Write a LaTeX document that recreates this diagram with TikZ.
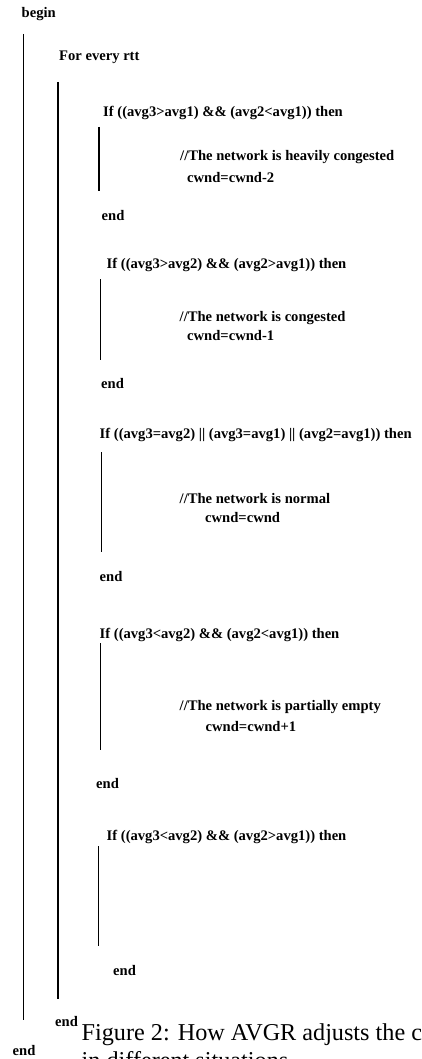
\documentclass[tikz,border=0pt]{standalone}
\usepackage{fontspec}
\setmainfont{Liberation Serif}
\tikzset{
  code/.style={anchor=base west, inner sep=0pt, font=\bfseries\fontsize{14.6}{16}\selectfont},
  captext/.style={anchor=base west, inner sep=0pt, font=\fontsize{24.2}{27}\selectfont},
  bar/.style={line width=1.1pt, black}
}
\begin{document}
\begin{tikzpicture}[x=1pt,y=-1pt]
\useasboundingbox (0,0) rectangle (422,1059);
\clip (0,0) rectangle (422,1059);
\fill[white] (0,0) rectangle (422,1059);
% texts
\node[code] (begin) at (21.5,17.5) {begin};
\node[code] (for) at (59,61) {For every rtt};
\node[code] (if1) at (103,117) {If ((avg3>avg1) \&\& (avg2<avg1)) then};
\node[code] (c1) at (180,161) {//The network is heavily congested};
\node[code] (w1) at (187,182.5) {cwnd=cwnd-2};
\node[code] (e1) at (101.5,220.5) {end};
\node[code] (if2) at (106.5,269) {If ((avg3>avg2) \&\& (avg2>avg1)) then};
\node[code] (c2) at (179.5,321) {//The network is congested};
\node[code] (w2) at (187,340) {cwnd=cwnd-1};
\node[code] (e2) at (101,388) {end};
\node[code] (if3) at (99.5,438.5) {If ((avg3=avg2) || (avg3=avg1) || (avg2=avg1)) then};
\node[code] (c3) at (179.5,503) {//The network is normal};
\node[code] (w3) at (205,522) {cwnd=cwnd};
\node[code] (e3) at (99.5,581) {end};
\node[code] (if4) at (99.5,638.5) {If ((avg3<avg2) \&\& (avg2<avg1)) then};
\node[code] (c4) at (179.5,710.5) {//The network is partially empty};
\node[code] (w4) at (205.5,731) {cwnd=cwnd+1};
\node[code] (e4) at (96,788) {end};
\node[code] (if5) at (106.5,840) {If ((avg3<avg2) \&\& (avg2>avg1)) then};
\node[code] (e5) at (113,975) {end};
\node[code] (e6) at (55,1026) {end};
\node[code] (e7) at (12.5,1055) {end};
\node[captext] (cap1) at (81.5,1040) {Figure 2: How AVGR adjusts the c};
\node[captext] (cap2) at (81.5,1068.5) {in different situations};
% bars
\coordinate (l1a) at (23.7,34);  \coordinate (l1b) at (23.7,1020);
\coordinate (l2a) at (58,82);    \coordinate (l2b) at (58,999);
\coordinate (l3a) at (99,127);   \coordinate (l3b) at (99,191);
\coordinate (l4a) at (100.5,279);\coordinate (l4b) at (100.5,360);
\coordinate (l5a) at (101.7,452);\coordinate (l5b) at (101.7,552);
\coordinate (l6a) at (100.7,643);\coordinate (l6b) at (100.7,750);
\coordinate (l7a) at (98.7,846); \coordinate (l7b) at (98.7,946);
\draw[bar] (l1a) -- (l1b);
\draw[bar] (l2a) -- (l2b);
\draw[bar] (l3a) -- (l3b);
\draw[bar] (l4a) -- (l4b);
\draw[bar] (l5a) -- (l5b);
\draw[bar] (l6a) -- (l6b);
\draw[bar] (l7a) -- (l7b);
\end{tikzpicture}
\end{document}
